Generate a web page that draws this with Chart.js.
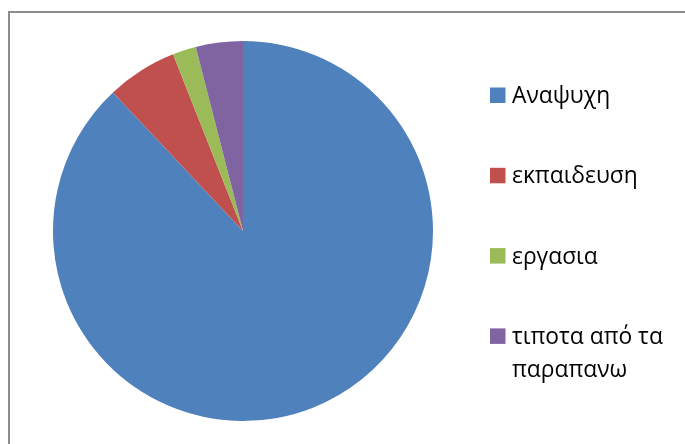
<!DOCTYPE html>
<html>
<head>
<meta charset="utf-8">
<script src="https://cdn.jsdelivr.net/npm/chart.js@4.4.1/dist/chart.umd.min.js"></script>
<style>
  html, body { margin: 0; padding: 0; background: #fff; }
  #wrap { width: 685px; height: 444px; }
</style>
</head>
<body>
<div id="wrap"><canvas id="mycanvas" width="685" height="444"></canvas></div>
<script>
// categories and values (percent)
var categories = ["Αναψυχη", "εκπαιδευση", "εργασια", ["τιποτα από τα", "παραπανω"]];
var shares = [88, 6, 2, 4];
var sliceColors = ["#4F81BD", "#C0504D", "#9BBB59", "#8064A2"];

// grey frame round the chart (only top and left edges fall inside the picture)
var framePlugin = {
    id: "frame",
    beforeDraw: function(chart) {
        var c = chart.ctx;
        c.save();
        c.strokeStyle = "#8c8c8c";
        c.lineWidth = 2;
        c.beginPath();
        c.moveTo(9, chart.height);
        c.lineTo(9, 12);
        c.lineTo(chart.width, 12);
        c.stroke();
        c.restore();
    }
};

// legend on the right, one item every 80px, with wrapped last label
var sideLegend = {
    id: "sideLegend",
    afterDraw: function(chart) {
        var c = chart.ctx;
        var labels = chart.data.labels;
        var colors = chart.data.datasets[0].backgroundColor;
        c.save();
        c.font = "22.8px 'Open Sans'";
        c.textBaseline = "alphabetic";
        for (var i = 0; i < labels.length; i++) {
            var base = 103 + i * 80.3;
            c.fillStyle = colors[i];
            c.fillRect(490, base - 15.5, 15.5, 15.5);
            c.fillStyle = "#000";
            var lines = Array.isArray(labels[i]) ? labels[i] : [labels[i]];
            for (var j = 0; j < lines.length; j++) {
                c.fillText(lines[j], 512, base + j * 33);
            }
        }
        c.restore();
    }
};

var ctx = document.getElementById("mycanvas");
var pie = new Chart(ctx, {
    type: "pie",
    data: {
        labels: categories,
        datasets: [{
            data: shares,
            backgroundColor: sliceColors,
            borderWidth: 0
        }]
    },
    options: {
        responsive: false,
        animation: false,
        layout: { padding: { left: 53, top: 41, right: 252, bottom: 23 } },
        plugins: {
            legend: { display: false },
            tooltip: { enabled: false }
        }
    },
    plugins: [framePlugin, sideLegend]
});
</script>
</body>
</html>
